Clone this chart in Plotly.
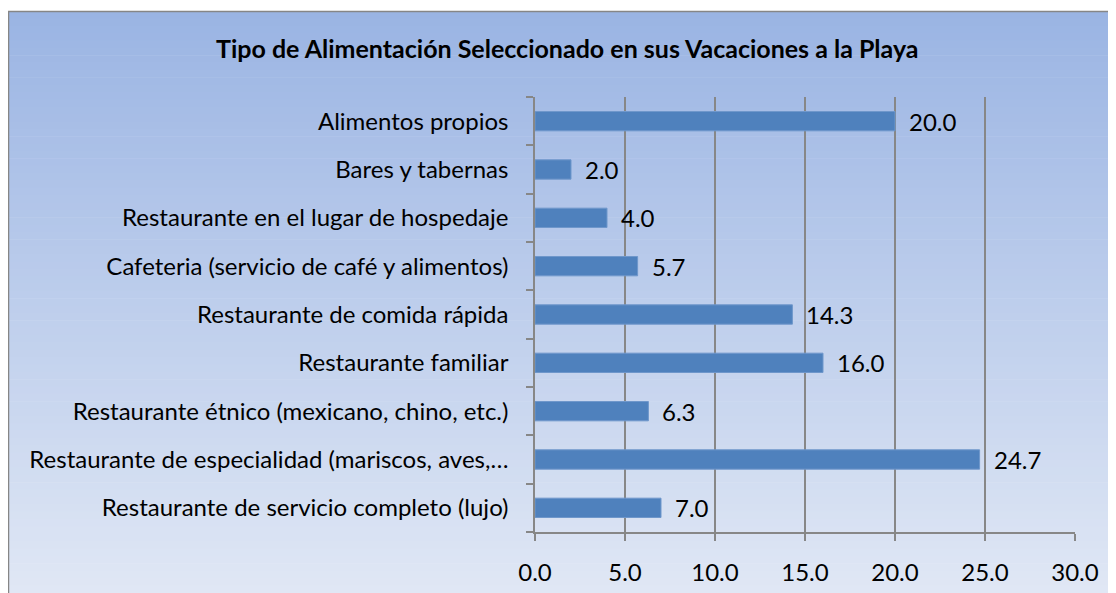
import plotly.graph_objects as go

categories = [
    "Restaurante de servicio completo (lujo)",
    "Restaurante de especialidad (mariscos, aves,…",
    "Restaurante étnico (mexicano, chino, etc.)",
    "Restaurante familiar",
    "Restaurante de comida rápida",
    "Cafeteria (servicio de café y alimentos)",
    "Restaurante en el lugar de hospedaje",
    "Bares y tabernas",
    "Alimentos propios",
]
values = [7.0, 24.7, 6.3, 16.0, 14.3, 5.7, 4.0, 2.0, 20.0]
x_ticks = [0, 5, 10, 15, 20, 25, 30]
title = "Tipo de Alimentación Seleccionado en sus Vacaciones a la Playa"

OFF = 8  # page body margin
W, H = 1116 - OFF, 593 - OFF
L, R, T, B = 535 - OFF, 1075 - OFF, 97 - OFF, 532 - OFF  # plot area in figure pixels
FONT = "Lato"
FS = 24

def px_x(p):
    return (p - OFF - L) / (R - L)

def px_y(p):
    return (B - (p - OFF)) / (B - T)

fig = go.Figure()
fig.add_trace(go.Bar(
    y=categories, x=values, orientation="h",
    marker=dict(color="#4F81BD", line=dict(color="#6F97CB", width=1)),
    width=0.4, hoverinfo="skip",
))

annotations = []
for c, v in zip(categories, values):
    annotations.append(dict(x=v, y=c, xref="x", yref="y", text=f"{v:.1f}",
                            showarrow=False, xanchor="left", xshift=12,
                            font=dict(family=FONT, size=FS, color="#000000")))
annotations.append(dict(x=px_x(567), y=px_y(48), xref="paper", yref="paper",
                        text=f"<b>{title}</b>", showarrow=False,
                        xanchor="center", yanchor="middle",
                        font=dict(family=FONT, size=25, color="#000000")))

# gradient background as stripes
shapes = []
top_c = (154, 180, 227)
bot_c = (225, 232, 245)
y0p, y1p = 11, 600
n = 80
for i in range(n):
    a = y0p + (y1p - y0p) * i / n
    b = y0p + (y1p - y0p) * (i + 1) / n + 0.6
    t = (i + 0.5) / n
    col = tuple(round(top_c[k] + (bot_c[k] - top_c[k]) * t) for k in range(3))
    shapes.append(dict(type="rect", xref="paper", yref="paper", layer="below",
                       x0=px_x(8), x1=px_x(1130), y0=px_y(a), y1=px_y(b),
                       line=dict(width=0), fillcolor="rgb(%d,%d,%d)" % col))
shapes.append(dict(type="rect", xref="paper", yref="paper", layer="below",
                   x0=px_x(8.5), x1=px_x(1130), y0=px_y(11.5), y1=px_y(610),
                   line=dict(color="#868686", width=1.5), fillcolor="rgba(0,0,0,0)"))

fig.update_layout(
    width=W, height=H,
    margin=dict(l=L, r=W - R, t=T, b=H - B, pad=0, autoexpand=False),
    paper_bgcolor="white", plot_bgcolor="rgba(0,0,0,0)",
    showlegend=False, bargap=0.6,
    annotations=annotations, shapes=shapes,
    font=dict(family=FONT, size=FS, color="#000000"),
    xaxis=dict(range=[0, 30], tickvals=x_ticks, ticktext=[f"{v:.1f}" for v in x_ticks],
               automargin=False,
               showgrid=True, gridcolor="#878787", gridwidth=1.5,
               showline=True, linecolor="#878787", linewidth=1.5,
               ticks="outside", ticklen=7, tickcolor="#878787", tickwidth=1.5,
               ticklabelstandoff=11, zeroline=False,
               tickfont=dict(family=FONT, size=FS, color="#000000")),
    yaxis=dict(type="category", categoryorder="array", categoryarray=categories,
               automargin=False,
               tickson="boundaries", showgrid=False,
               showline=True, linecolor="#878787", linewidth=1.5,
               ticks="outside", ticklen=7, tickcolor="#878787", tickwidth=1.5,
               ticklabelstandoff=20,
               tickfont=dict(family=FONT, size=FS, color="#000000")),
)

fig.write_html("out.html")
